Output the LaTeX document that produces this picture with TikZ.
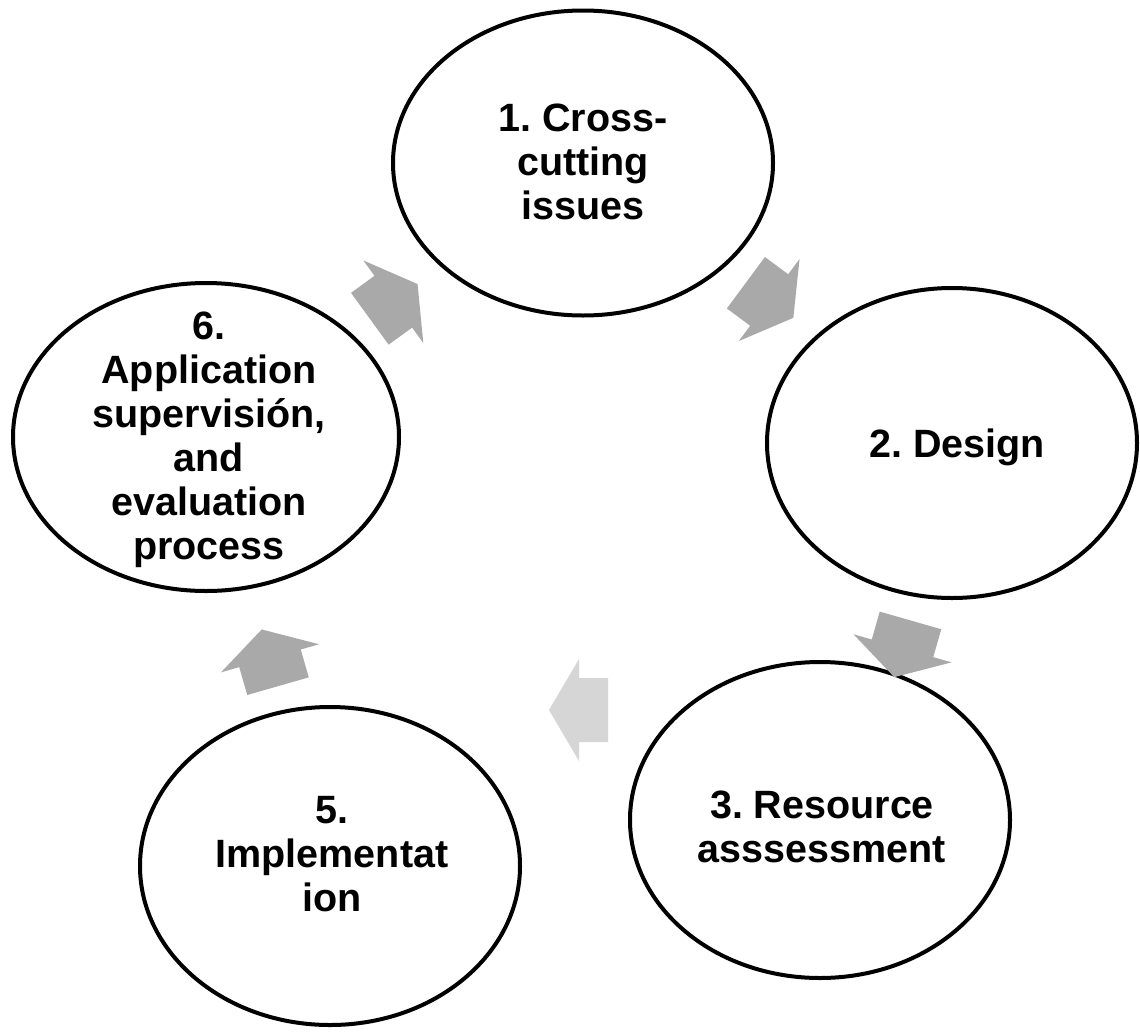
\documentclass[tikz,border=0pt]{standalone}
\usepackage{fontspec}
\setmainfont{Liberation Sans}
\usetikzlibrary{shapes.geometric}
\definecolor{arrowgray}{HTML}{A9A9A9}
\definecolor{lightarrow}{HTML}{D6D6D6}
\tikzset{
  ell/.style={draw=black, line width=4pt, ellipse, inner sep=0pt, fill=white},
  txt/.style={align=center, font=\fontsize{39.5}{44}\selectfont\bfseries\frenchspacing, inner sep=0pt},
  cyclearrow/.pic={\fill[pic actions] (-29,-32) -- (0,-32) -- (0,-51) -- (30,0) -- (0,51) -- (0,32) -- (-29,32) -- cycle;}
}
\begin{document}
\begin{tikzpicture}[x={(1pt,0pt)}, y={(0pt,-1pt)}]
\useasboundingbox (0,0) rectangle (1140,1031);
\fill[white] (0,0) rectangle (1140,1031);
% nodes
\node[ell, minimum width=380pt, minimum height=305pt] (n1) at (583,163) {};
\node[ell, minimum width=370pt, minimum height=310pt] (n2) at (952,443) {};
\node[ell, minimum width=380pt, minimum height=316pt] (n3) at (820,820) {};
\node[ell, minimum width=380pt, minimum height=318pt] (n5) at (330,866) {};
\node[ell, minimum width=386pt, minimum height=308pt] (n6) at (206,437) {};
% texts
\node[txt] (t1) at (583,162) {1. Cross-\\cutting\\issues};
\node[txt] (t2) at (957,447) {2. Design};
\node[txt] (t3) at (822,827) {3. Resource\\asssessment};
\node[txt] (t5) at (332,854) {5.\\Implementat\\ion};
\node[txt] (t6) at (209,440) {6.\\Application\\supervisión,\\and\\evaluation\\process};
% arrows
\pic[rotate=36, fill=arrowgray] at (393.3,301.7) {cyclearrow};
\pic[rotate=-36.5, fill=arrowgray] at (769.2,300) {cyclearrow};
\pic[rotate=-106, fill=arrowgray] at (902.5,648.3) {cyclearrow};
\pic[rotate=180, fill=lightarrow] at (579,710) {cyclearrow};
\pic[rotate=106, fill=arrowgray] at (270,658.3) {cyclearrow};
\end{tikzpicture}
\end{document}
